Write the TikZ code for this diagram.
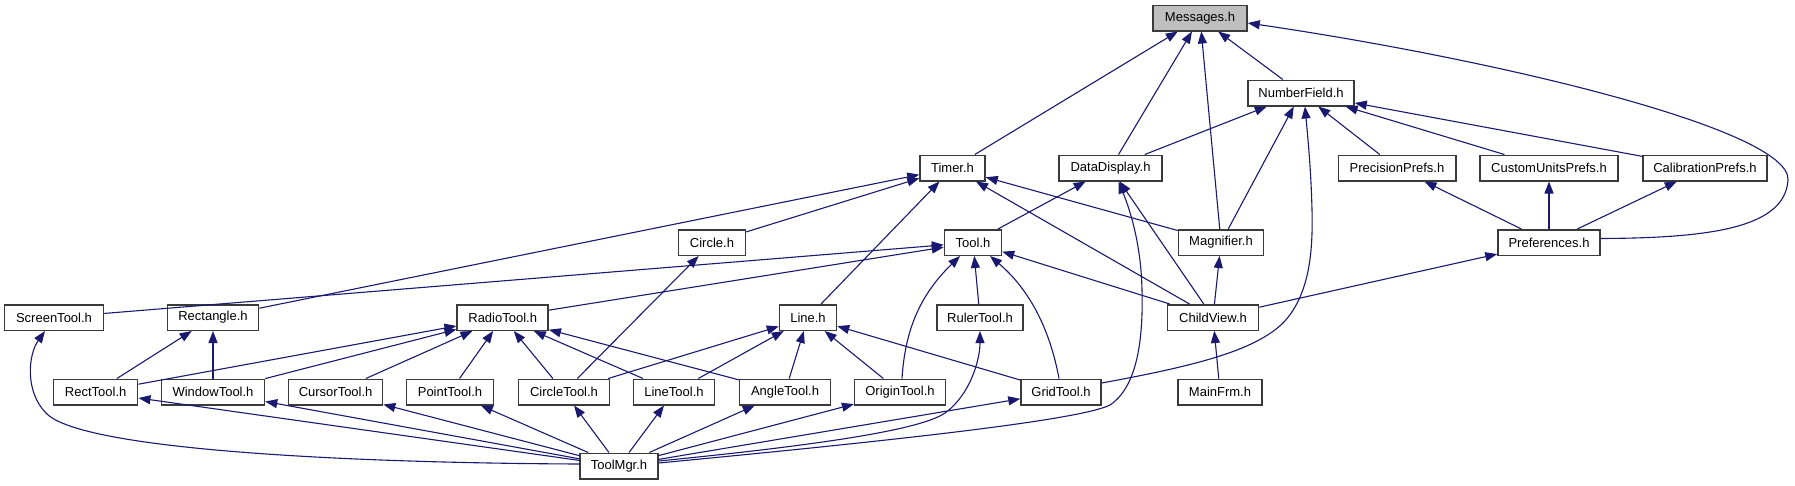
\documentclass[tikz,border=0pt]{standalone}
\usepackage{fontspec}
\setmainfont{Liberation Sans}
\usetikzlibrary{arrows.meta,calc}
\definecolor{edgeblue}{HTML}{191970}
\definecolor{boxline}{HTML}{3A3A3A}
\definecolor{focusfill}{HTML}{BFBFBF}
\begin{document}
\begin{tikzpicture}[x=1pt,y=-1pt,
  box/.style={draw=boxline,line width=1.5pt,fill=white,minimum height=25.5pt,inner sep=0pt,font=\fontsize{13}{15}\selectfont},
  focus/.style={box,fill=focusfill},
  edge/.style={draw=edgeblue,line width=1.1pt,-{Triangle[length=12pt,width=9pt]}}]
\useasboundingbox[fill=white] (0,0) rectangle (1795,485);
% row 0
\node[focus,minimum width=94pt] (msg) at (1200,18) {Messages.h};
% row 1
\node[box,minimum width=106pt] (nf) at (1301,93) {NumberField.h};
% row 2
\node[box,minimum width=65pt] (timer) at (952.5,168) {Timer.h};
\node[box,minimum width=103pt] (dd) at (1110.5,168) {DataDisplay.h};
\node[box,minimum width=117.5pt] (pp) at (1397,168) {PrecisionPrefs.h};
\node[box,minimum width=138pt] (cu) at (1549,168) {CustomUnitsPrefs.h};
\node[box,minimum width=124pt] (cp) at (1705,168) {CalibrationPrefs.h};
% row 3
\node[box,minimum width=67pt] (circle) at (712,242.5) {Circle.h};
\node[box,minimum width=57pt] (tool) at (973,242.5) {Tool.h};
\node[box,minimum width=85pt] (mag) at (1221,242.5) {Magnifier.h};
\node[box,minimum width=102pt] (pref) at (1549,242.5) {Preferences.h};
% row 4
\node[box,minimum width=99pt] (screen) at (54,317.5) {ScreenTool.h};
\node[box,minimum width=91pt] (rect) at (213,317.5) {Rectangle.h};
\node[box,minimum width=91pt] (radio) at (502.7,317.5) {RadioTool.h};
\node[box,minimum width=57pt] (line) at (808,317.5) {Line.h};
\node[box,minimum width=86pt] (ruler) at (980,317.5) {RulerTool.h};
\node[box,minimum width=91pt] (child) at (1213,317.5) {ChildView.h};
% row 5
\node[box,minimum width=84pt] (recttool) at (95.7,392) {RectTool.h};
\node[box,minimum width=103pt] (window) at (213,392) {WindowTool.h};
\node[box,minimum width=94pt] (cursor) at (335.6,392) {CursorTool.h};
\node[box,minimum width=87pt] (point) at (450,392) {PointTool.h};
\node[box,minimum width=90.6pt] (circletool) at (564,392) {CircleTool.h};
\node[box,minimum width=81pt] (linetool) at (674,392) {LineTool.h};
\node[box,minimum width=90.7pt] (angle) at (785,392) {AngleTool.h};
\node[box,minimum width=90.7pt] (origin) at (900,392) {OriginTool.h};
\node[box,minimum width=80pt] (grid) at (1061,392) {GridTool.h};
\node[box,minimum width=84pt] (mainfrm) at (1220,392) {MainFrm.h};
% row 6
\node[box,minimum width=78pt] (toolmgr) at (619,466) {ToolMgr.h};

% straight edges (child -> parent)
\foreach \c/\p in {timer/msg, dd/msg, mag/msg, nf/msg,
  dd/nf, mag/nf, pp/nf, cu/nf, cp/nf,
  rect/timer, circle/timer, line/timer, child/timer, mag/timer,
  tool/dd, child/dd, child/mag,
  pref/pp, pref/cu, pref/cp, child/pref,
  circletool/circle,
  screen/tool, radio/tool, ruler/tool, child/tool,
  recttool/rect, window/rect,
  recttool/radio, window/radio, cursor/radio, point/radio, circletool/radio, linetool/radio, angle/radio,
  circletool/line, linetool/line, angle/line, origin/line, grid/line,
  mainfrm/child,
  toolmgr/recttool, toolmgr/window, toolmgr/cursor, toolmgr/point, toolmgr/circletool,
  toolmgr/linetool, toolmgr/angle, toolmgr/origin, toolmgr/grid}
  \draw[edge] (\c) -- (\p);

% curved edges
\draw[edge] ([yshift=4pt]pref.east) .. controls (1710,238) and (1785,228) .. (1788,180)
  .. controls (1791,130) and (1500,60) .. ([yshift=-5pt]msg.east);
\draw[edge] ([yshift=9pt]grid.east) .. controls (1200,365) and (1255,350) .. (1283,323)
  .. controls (1310,295) and (1313,250) .. (1312,210)
  .. controls (1311,170) and (1308,140) .. ([xshift=4pt]nf.south);
\draw[edge] ([yshift=3pt]toolmgr.east) .. controls (900,440) and (1080,420) .. (1110,405)
  .. controls (1140,385) and (1143,330) .. (1142,290)
  .. controls (1141,240) and (1128,205) .. ([xshift=8pt]dd.south);
\draw[edge] ([yshift=5pt]toolmgr.east) .. controls (820,445) and (920,430) .. (945,413)
  .. controls (970,395) and (980,360) .. (ruler.south);
\draw[edge] ([xshift=2pt]origin.north) .. controls (905,330) and (920,295) .. ([xshift=-13pt]tool.south);
\draw[edge] ([xshift=-2pt]grid.north) .. controls (1050,330) and (1030,290) .. ([xshift=17pt]tool.south);
\draw[edge] ([yshift=2pt]toolmgr.west) .. controls (350,463) and (80,450) .. (46,413)
  .. controls (25,392) and (28,355) .. ([xshift=-9pt]screen.south);
\end{tikzpicture}
\end{document}
